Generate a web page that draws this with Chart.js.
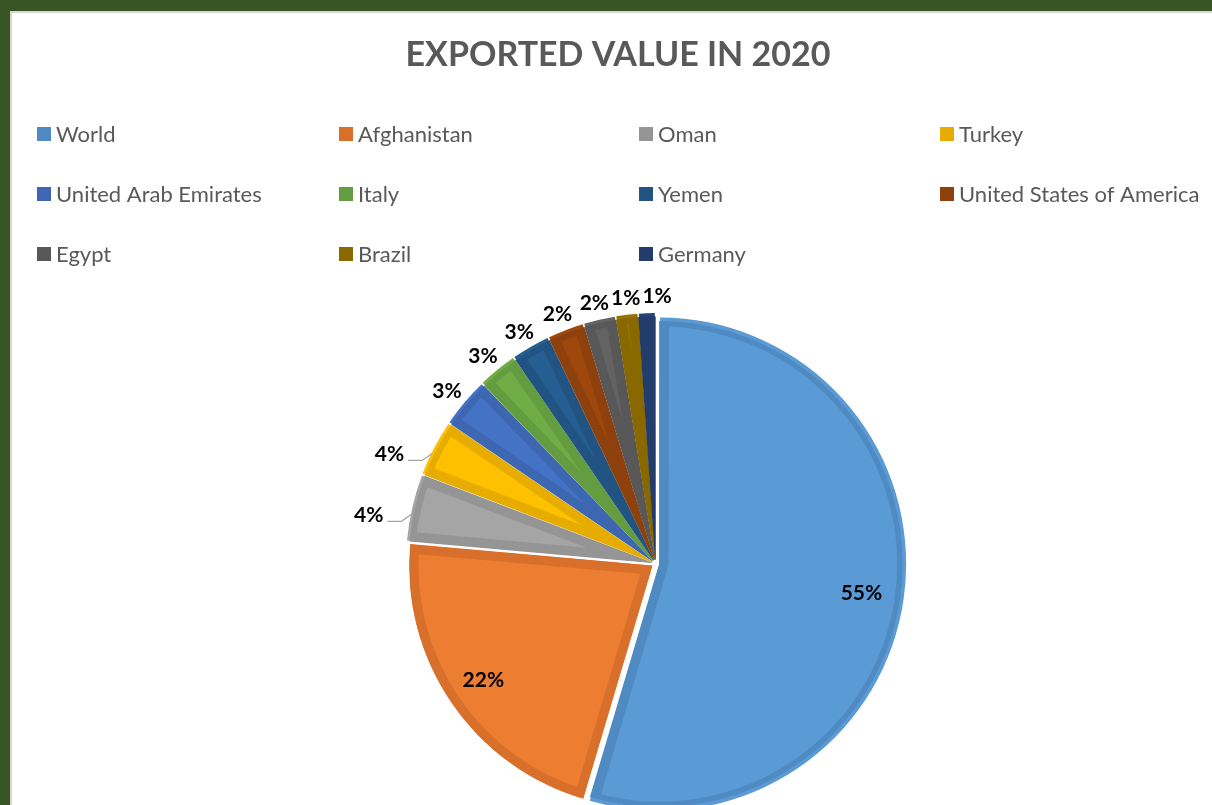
<!DOCTYPE html>
<html>
<head>
<meta charset="utf-8">
<script src="https://cdn.jsdelivr.net/npm/chart.js@4.4.1/dist/chart.umd.min.js"></script>
<style>
  html, body { margin: 0; padding: 0; width: 1212px; height: 805px; overflow: hidden; background: #375623; }
  #panel { position: absolute; left: 10px; top: 11px; width: 1230px; height: 900px; background: #fff;
           border-left: 2px solid #d6d6d6; border-top: 2px solid #d6d6d6; box-sizing: border-box; }
  #c { position: absolute; left: 0; top: 0; }
</style>
</head>
<body>
<div id="panel"></div>
<canvas id="c" width="1212" height="900"></canvas>
<script>
// share of exported value, percent
var countries = ['World', 'Afghanistan', 'Oman', 'Turkey', 'United Arab Emirates', 'Italy',
                 'Yemen', 'United States of America', 'Egypt', 'Brazil', 'Germany'];
var shares = [54.6, 21.8, 4.4, 3.7, 3.3, 2.6, 2.55, 2.4, 2.1, 1.45, 1.1];
var fills = ['#5B9BD5', '#ED7D31', '#A5A5A5', '#FFC000', '#4472C4', '#70AD47',
             '#255E91', '#9E480E', '#636363', '#997300', '#264478'];
var edges = ['#4F8AC3', '#D8702C', '#959595', '#E6AD00', '#3D67B1', '#649C40',
             '#215483', '#8E410D', '#585858', '#8A6800', '#223D6C'];
var chartTitle = 'EXPORTED VALUE IN 2020';

var legendCols = [37, 339, 639, 940];
var legendRows = [134, 194, 254];
var R = 243;

var overlay = {
  id: 'overlay',
  afterDatasetsDraw: function (chart) {
    var ctx = chart.ctx;
    var meta = chart.getDatasetMeta(0);
    var total = shares.reduce(function (a, b) { return a + b; }, 0);
    var prev = null;
    ctx.save();
    ctx.font = 'bold 21px Lato';
    ctx.fillStyle = '#000';
    meta.data.forEach(function (arc, i) {
      var p = arc.getProps(['x', 'y', 'startAngle', 'endAngle', 'outerRadius']);
      var mid = (p.startAngle + p.endAngle) / 2;
      var cx = Math.cos(mid), sy = Math.sin(mid);
      var ox = p.x + cx * 4, oy = p.y + sy * 4;
      var txt = Math.round(shares[i] / total * 100) + '%';
      var w = ctx.measureText(txt).width;
      if (shares[i] / total >= 0.1) {
        ctx.textAlign = 'center';
        ctx.textBaseline = 'middle';
        ctx.fillText(txt, ox + cx * p.outerRadius * 0.84, oy + sy * p.outerRadius * 0.84);
        return;
      }
      var tx, ty;
      if (mid > Math.PI && mid < Math.PI + 0.56) {
        // leader line labels on the left
        var a = p.startAngle + 0.4 * (p.endAngle - p.startAngle);
        var sx = ox + Math.cos(a) * (p.outerRadius + 2), syy = oy + Math.sin(a) * (p.outerRadius + 2);
        var ex = sx - 10, ey = syy + 7;
        ctx.strokeStyle = '#a6a6a6';
        ctx.lineWidth = 1.3;
        ctx.beginPath();
        ctx.moveTo(sx, syy);
        ctx.lineTo(ex, ey);
        ctx.lineTo(ex - 14, ey);
        ctx.stroke();
        tx = ex - 18 - w / 2;
        ty = ey - 6;
      } else {
        var bx = ox + cx * (p.outerRadius + 11), by = oy + sy * (p.outerRadius + 11);
        tx = bx + cx * w / 2;
        ty = by + sy * 9;
      }
      if (prev && Math.abs(ty - prev.y) < 20 && tx - w / 2 < prev.x + prev.w / 2 + 2) {
        tx = prev.x + prev.w / 2 + 2 + w / 2;
      }
      ctx.textAlign = 'center';
      ctx.textBaseline = 'middle';
      ctx.fillText(txt, tx, ty);
      prev = { x: tx, y: ty, w: w };
    });
    ctx.restore();
  },
  afterDraw: function (chart) {
    var ctx = chart.ctx;
    ctx.save();
    ctx.fillStyle = '#595959';
    ctx.font = 'bold 34px Lato';
    ctx.textAlign = 'center';
    ctx.textBaseline = 'middle';
    ctx.fillText(chartTitle, 618, 55);
    ctx.font = '22px Lato';
    ctx.textAlign = 'left';
    countries.forEach(function (name, i) {
      var x = legendCols[i % 4], y = legendRows[Math.floor(i / 4)];
      ctx.fillStyle = edges[i];
      ctx.fillRect(x, y - 7, 14, 14);
      ctx.fillStyle = '#595959';
      ctx.fillText(name, x + 19, y + 1);
    });
    ctx.restore();
  }
};

var chart = new Chart(document.getElementById('c').getContext('2d'), {
  type: 'pie',
  data: {
    labels: countries,
    datasets: [{
      data: shares,
      backgroundColor: fills,
      borderColor: edges,
      borderWidth: 9,
      borderAlign: 'inner',
      offset: 16
    }]
  },
  options: {
    responsive: false,
    animation: false,
    radius: R,
    layout: { padding: { left: 99, right: 0, top: 227, bottom: 0 } },
    plugins: {
      legend: { display: false },
      title: { display: false },
      tooltip: { enabled: false }
    }
  },
  plugins: [overlay]
});
</script>
</body>
</html>
